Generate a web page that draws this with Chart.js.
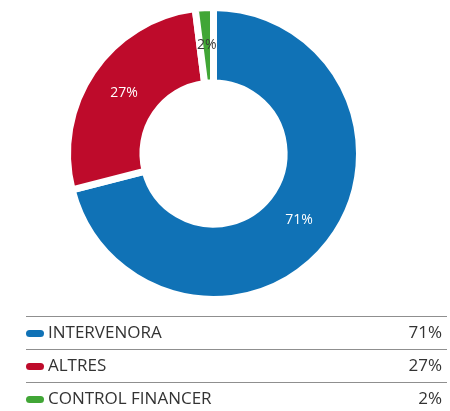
<!DOCTYPE html>
<html lang="ca">
<head>
  <meta charset="UTF-8" />
  <title>Distribució</title>
  <script src="https://cdn.jsdelivr.net/npm/chart.js"></script>
  <style>
    html, body {
      margin: 0;
      padding: 0;
      background: #ffffff;
    }
    .chart-container {
      position: relative;
      width: 450px;
      height: 411px;
    }
  </style>
</head>
<body>
  <div class="chart-container">
    <canvas id="donutChart"></canvas>
  </div>

  <script>
    const categories = ['INTERVENORA', 'ALTRES', 'CONTROL FINANCER'];
    const shares = [71, 27, 2];
    const sliceColors = ['#1072b6', '#be0b2b', '#41a636'];
    const labelColors = ['#ffffff', '#ffffff', '#3a3a3a'];

    const fontFamily = "'Open Sans', 'DejaVu Sans', sans-serif";

    // percentage text on each slice, at the slice centre
    const sliceLabels = {
      id: 'sliceLabels',
      afterDatasetsDraw(chart) {
        const ctx = chart.ctx;
        const meta = chart.getDatasetMeta(0);
        ctx.save();
        ctx.font = '14px ' + fontFamily;
        ctx.textAlign = 'center';
        ctx.textBaseline = 'middle';
        meta.data.forEach((arc, i) => {
          const pos = arc.tooltipPosition();
          ctx.fillStyle = labelColors[i];
          ctx.fillText(shares[i] + '%', pos.x, pos.y);
        });
        ctx.restore();
      }
    };

    // table-like legend under the ring
    const tableLegend = {
      id: 'tableLegend',
      afterDraw(chart) {
        const ctx = chart.ctx;
        const left = 26, right = 447, top = 316.5, rowH = 33;
        ctx.save();
        ctx.strokeStyle = '#8f8f8f';
        ctx.lineWidth = 1;
        categories.forEach((name, i) => {
          const y = top + i * rowH;
          ctx.beginPath();
          ctx.moveTo(left, y);
          ctx.lineTo(right, y);
          ctx.stroke();

          const cy = y + 17;
          // pill marker
          ctx.fillStyle = sliceColors[i];
          ctx.beginPath();
          ctx.roundRect(left, cy - 3.5, 18, 7, 3.5);
          ctx.fill();

          ctx.fillStyle = '#333333';
          ctx.font = '17px ' + fontFamily;
          ctx.textBaseline = 'middle';
          ctx.textAlign = 'left';
          ctx.fillText(name, left + 22, cy);
          ctx.textAlign = 'right';
          ctx.fillText(shares[i] + '%', right - 5, cy);
        });
        ctx.restore();
      }
    };

    new Chart(document.getElementById('donutChart'), {
      type: 'doughnut',
      data: {
        labels: categories,
        datasets: [{
          data: shares,
          backgroundColor: sliceColors,
          borderColor: '#ffffff',
          borderWidth: 7,
          hoverOffset: 0
        }]
      },
      options: {
        responsive: true,
        maintainAspectRatio: false,
        animation: false,
        radius: 146,
        cutout: 72.5,
        layout: {
          padding: { top: 0, left: 0, right: 23, bottom: 104 }
        },
        plugins: {
          legend: { display: false },
          tooltip: { enabled: false }
        }
      },
      plugins: [sliceLabels, tableLegend]
    });
  </script>
</body>
</html>
